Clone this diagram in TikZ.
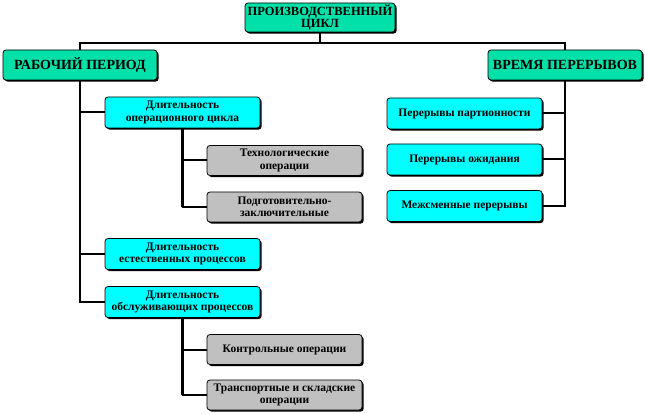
\documentclass[tikz,border=0pt]{standalone}
\usepackage{fontspec}
\setmainfont{Liberation Serif}
\usetikzlibrary{shadows}

\definecolor{cyclegreen}{RGB}{0,224,168}
\definecolor{stagecyan}{RGB}{0,255,255}
\definecolor{opgray}{RGB}{192,192,192}

\begin{document}
\begin{tikzpicture}[
  x=1pt, y=-1pt,
  box/.style={
    rectangle,
    rounded corners=3pt,
    draw=black,
    thick,
    align=center,
    inner sep=0pt,
    font=\bfseries\fontsize{11.5}{12.5}\selectfont,
    drop shadow={shadow xshift=1.6pt, shadow yshift=-1.6pt,
      fill=black, opacity=1}
  },
  topblock/.style={
    box,
    fill=cyclegreen,
    minimum width=150pt,
    minimum height=29pt,
    font=\bfseries\fontsize{12.5}{12.5}\selectfont
  },
  mainblock/.style={
    box,
    fill=cyclegreen,
    minimum width=154pt,
    minimum height=30pt,
    font=\bfseries\fontsize{14}{14}\selectfont
  },
  stageblock/.style={
    box,
    fill=stagecyan,
    minimum width=155pt,
    minimum height=31pt
  },
  opblock/.style={
    box,
    fill=opgray,
    minimum width=155pt,
    minimum height=30pt
  },
  link/.style={
    line width=2pt,
    draw=black
  },
  trunk/.style={
    line width=2.6pt,
    draw=black
  }]
  \useasboundingbox (0,0) rectangle (645,414);
  % level 1
  \node [topblock] (cycle) at (320,17.5) {ПРОИЗВОДСТВЕННЫЙ\\ЦИКЛ};
  % level 2
  \node [mainblock] (work) at (80,65) {РАБОЧИЙ ПЕРИОД};
  \node [mainblock] (breaks) at (565,65) {ВРЕМЯ ПЕРЕРЫВОВ};
  % level 3
  \node [stageblock] (opcycle) at (182.5,112.5) {Длительность\\операционного цикла};
  \node [stageblock] (natural) at (182.5,254) {Длительность\\естественных процессов};
  \node [stageblock] (service) at (182.5,302) {Длительность\\обслуживающих процессов};
  \node [stageblock] (batch) at (464.5,113.5) {Перерывы партионности};
  \node [stageblock] (waiting) at (464.5,159.5) {Перерывы ожидания};
  \node [stageblock] (shift) at (464.5,206) {Межсменные перерывы};
  % level 4
  \node [opblock] (tech) at (284.5,160.5) {Технологические\\операции};
  \node [opblock] (prep) at (284.5,207) {Подготовительно-\\заключительные};
  \node [opblock] (control) at (284.5,349.5) {Контрольные операции};
  \node [opblock] (transport) at (284.5,395) {Транспортные и складские\\операции};
  % level 1 - level 2
  \coordinate (split) at (320,43);
  \draw[link] (cycle.south) -- (split);
  \draw[link] (work.north) |- (split);
  \draw[link] (split) -| (breaks.north);
  % working period
  \draw[trunk] (work.south) -- (work.south |- service.west);
  \draw[link] (work.south) |- (opcycle.west);
  \draw[link] (work.south) |- (natural.west);
  \draw[link] (work.south) |- (service.west);
  \draw[trunk] (opcycle.south) -- (opcycle.south |- prep.west);
  \draw[link] (opcycle.south) |- (tech.west);
  \draw[link] (opcycle.south) |- (prep.west);
  \draw[trunk] (service.south) -- (service.south |- transport.west);
  \draw[link] (service.south) |- (control.west);
  \draw[link] (service.south) |- (transport.west);
  % breaks
  \draw[trunk] (breaks.south) -- (breaks.south |- shift.east);
  \draw[link] (breaks.south) |- (batch.east);
  \draw[link] (breaks.south) |- (waiting.east);
  \draw[link] (breaks.south) |- (shift.east);
\end{tikzpicture}
\end{document}
